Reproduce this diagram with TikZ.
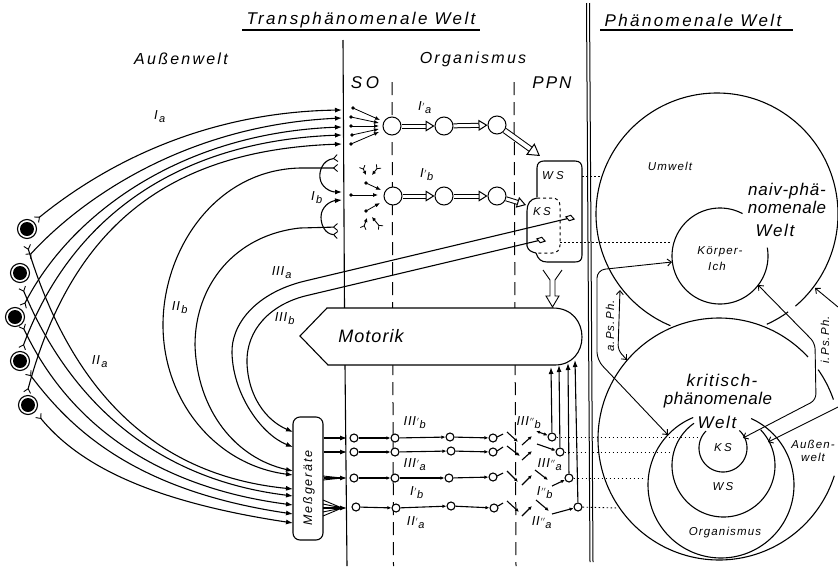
\documentclass[tikz,border=0pt]{standalone}
\usepackage{fontspec}
\setmainfont[LetterSpace=6]{Liberation Sans}
\usetikzlibrary{arrows.meta,shapes.geometric}
\newcommand{\myarc}[5]{plot[domain=#4:#5,samples=120,smooth] ({#1+#3*cos(\x)},{#2+#3*sin(\x)})}
\newcommand{\nlab}[3]{\textit{#1}$^{\scriptscriptstyle #2}$\raisebox{-3pt}{\textit{\fontsize{11}{12}\selectfont #3}}}
\newcommand{\fnt}[2]{\fontsize{#1}{#1}\selectfont\itshape\addfontfeature{LetterSpace=#2}}
\tikzset{
 every node/.style={font=\itshape},
 lw/.style={line width=1.1pt},
 aff/.style={lw,{Straight Barb[reversed,length=4pt,width=7pt,line width=.9pt]}-{Latex[length=7pt,width=5pt]}},
 eff/.style={lw,-{Latex[length=7pt,width=5pt]}},
 fine/.style={line width=.8pt,-{Latex[length=5pt,width=4pt]}},
 fork/.style={line width=.9pt,{Straight Barb[reversed,length=3pt,width=6pt,line width=.8pt]}-{Latex[length=4pt,width=4pt]}},
 seg/.style={line width=1.1pt,-{Latex[length=4pt,width=3.5pt]}},
 open/.style={line width=.9pt,{Straight Barb[length=4pt,width=7pt]}-{Straight Barb[length=4pt,width=7pt]}},
 hollow/.style={double,double distance=3pt,line width=1pt,-{Triangle[open,fill=white,length=9pt,width=11pt,line width=1pt]}},
 hollowb/.style={double,double distance=4pt,line width=1pt,-{Triangle[open,fill=white,length=12pt,width=14pt,line width=1pt]}},
 vdash/.style={line width=1pt,dash pattern=on 13pt off 7pt},
 dotl/.style={line width=.9pt,dash pattern=on 1.5pt off 2.5pt},
 neuron/.style={circle,draw,fill=white,line width=1.1pt,minimum size=19pt,inner sep=0},
 bigc/.style={circle,draw,line width=1pt,fill=white,minimum size=18pt,inner sep=0},
 smallc/.style={circle,draw,fill=white,line width=1.1pt,minimum size=8pt,inner sep=0},
 dia/.style={diamond,draw,fill=white,line width=1pt,minimum width=9pt,minimum height=6pt,inner sep=0},
 head/.style={font=\fnt{17}{14}},
 bigw/.style={font=\fnt{16}{14}},
 small/.style={font=\fnt{11.5}{10}},
 lab/.style={font=\fontsize{13}{14}\selectfont},
}
\begin{document}
\begin{tikzpicture}[x=1pt,y=-1pt]
\useasboundingbox (0,0) rectangle (838,568);
% separators
\draw[line width=1pt] (586.5,3) -- (590,562);
\draw[line width=1pt] (589.5,3) -- (593,562);
\draw[lw] (343,40) -- (344.5,308);
\draw[lw] (345,365) -- (347,566);
\draw[vdash] (392,82) -- (393.5,566);
\draw[vdash] (514,82) -- (516,566);
% headers
\node[head] (h1) at (361,20) {Transphänomenale Welt};
\coordinate (u1a) at (242,30); \coordinate (u1b) at (480,30);
\draw[lw] (u1a) -- (u1b);
\node[head] (h2) at (693,20) {Phänomenale Welt};
\coordinate (u2a) at (600,30); \coordinate (u2b) at (793,30);
\draw[lw] (u2a) -- (u2b);
\node[bigw] (aw) at (181,59) {Außenwelt};
\node[bigw] (org) at (473,59) {Organismus};
\node[font=\fnt{17}{22}] (so) at (365,83) {SO};
\node[font=\fnt{17}{12}] (ppn) at (552,83) {PPN};
% neurons
\node[neuron] (n1) at (27,229) {};
\node[neuron] (n2) at (20,273) {};
\node[neuron] (n3) at (15,317) {};
\node[neuron] (n4) at (20,361) {};
\node[neuron] (n5) at (28,405) {};
\foreach \n in {n1,n2,n3,n4,n5} {\fill (\n) circle (7pt);}
% Messgeraete
\node[draw,lw,rounded corners=7pt,minimum width=30pt,minimum height=123pt,inner sep=0] (mess) at (308,478.5) {};
\node[rotate=90,font=\fnt{12.5}{14}] (messt) at (309,488) {Meßgeräte};
% I_a
\coordinate (ia1) at (342,110); \coordinate (ia2) at (342,118); \coordinate (ia3) at (342,127); \coordinate (ia4) at (342,135); \coordinate (ia5) at (342,144);
\draw[aff] (36,220) .. controls (110,160) and (210,112) .. (ia1);
\draw[aff] (28,257) .. controls (85,195) and (190,125) .. (ia2);
\draw[aff] (23,307) .. controls (70,215) and (180,133) .. (ia3);
\draw[aff] (22,349) .. controls (70,220) and (175,141) .. (ia4);
\draw[aff] (27,393) .. controls (72,225) and (170,150) .. (ia5);
% II_a
\coordinate (m1) at (293,489); \coordinate (m2) at (293,496); \coordinate (m3) at (293,505); \coordinate (m4) at (293,514); \coordinate (m5) at (293,523);
\draw[aff] (27,245) .. controls (70,385) and (150,475) .. (m1);
\draw[aff] (22,287) .. controls (65,390) and (145,478) .. (m2);
\draw[aff] (22,325) .. controls (62,410) and (140,485) .. (m3);
\draw[aff] (28,372) .. controls (68,425) and (130,490) .. (m4);
\draw[aff] (38,415) .. controls (75,460) and (140,500) .. (m5);
% II_b
\coordinate (m6) at (293,475); \coordinate (m7) at (293,471);
\draw[aff] (338,168) -- (300,168) .. controls (215,170) and (163,250) .. (163,325) .. controls (163,400) and (215,465) .. (m6);
\draw[aff] (338,227) -- (300,228) .. controls (235,235) and (195,285) .. (195,345) .. controls (197,410) and (235,458) .. (m7);
% I_b
\coordinate (ib1) at (342,192); \coordinate (ib2) at (342,200);
\draw[aff] (338,158) .. controls (322,160) and (319,172) .. (320,178) .. controls (321,187) and (330,192) .. (ib1);
\draw[aff] (338,235) .. controls (325,234) and (321,225) .. (321,217) .. controls (321,207) and (330,201) .. (ib2);
% Motorik
\draw[lw,fill=white] (300,336) -- (327,308) -- (553,308) .. controls (572,308) and (582,322) .. (582,337) .. controls (582,352) and (572,365) .. (555,365) -- (328,365) -- cycle;
\node[font=\fontsize{18}{20}\selectfont\itshape] (mot) at (371,336) {Motorik};
% upper row
\node[bigc] (a1) at (392,126) {}; \node[bigc] (a2) at (444,126) {}; \node[bigc] (a3) at (497,125) {};
\node[bigc] (b1) at (393,196) {}; \node[bigc] (b2) at (444,196) {}; \node[bigc] (b3) at (497,196) {};
\draw[hollow] (a1) -- (a2); \draw[hollow] (a2) -- (a3);
\draw[hollow] (b1) -- (b2); \draw[hollow] (b2) -- (b3);
% small arrows
\foreach \i/\sx/\sy/\tx/\ty in {1/353/108/380/120,2/351/117/379/123,3/351/126/379/126,4/352/135/379/129,5/351/144/379/132}
 {\coordinate (s\i) at (\sx,\sy); \coordinate (t\i) at (\tx,\ty);
  \fill (s\i) circle (1.8pt); \draw[fine] (s\i) -- (t\i);}
\foreach \i/\sx/\sy/\tx/\ty in {1/362/166/366/175,2/379/166/372/175,6/363/229/367/218,7/381/228/372/217}
 {\coordinate (f\i) at (\sx,\sy); \coordinate (g\i) at (\tx,\ty); \draw[fork] (f\i) -- (g\i);}
\foreach \i/\sx/\sy/\tx/\ty in {3/366/183/381/190,4/351/195/378/195,5/366/211/380/203}
 {\coordinate (f\i) at (\sx,\sy); \coordinate (g\i) at (\tx,\ty);
  \fill (f\i) circle (1.8pt); \draw[fine] (f\i) -- (g\i);}
% WS / KS
\draw[lw] (537,197) -- (537,168) .. controls (537,163) and (540,161) .. (544,161) -- (575,161) .. controls (580,161) and (582,164) .. (582,168) -- (582,255) .. controls (582,260) and (580,262) .. (575,262) -- (547,262) .. controls (541,262) and (538,259) .. (536,253);
\draw[lw] (527,246) -- (527,211) .. controls (527,204) and (530,199) .. (537,198);
\draw[lw] (527,246) .. controls (528,250) and (531,252) .. (536,253);
\draw[line width=1pt,dash pattern=on 3pt off 3pt] (537,198) -- (552,198) .. controls (557,198) and (560,201) .. (560,206) -- (560,245) .. controls (560,250) and (557,253) .. (552,253) -- (536,253);
\node[font=\fnt{11.5}{26}] (ws) at (553,176) {WS};
\node[font=\fnt{11.5}{20}] (ks) at (542,212) {KS};
\coordinate (wsin) at (540,156); \coordinate (ksin) at (526,205);
\draw[hollowb] (a3) -- (wsin);
\draw[hollow] (b3) -- (ksin);
% III
\node[dia,rotate=-15] (d1) at (570,218) {};
\node[dia,rotate=-15] (d2) at (541,240) {};
\coordinate (m8) at (293,447); \coordinate (m9) at (293,432);
\draw[eff] (d1) -- (305,281) .. controls (255,293) and (231,325) .. (232,353) .. controls (233,395) and (262,435) .. (m8);
\draw[eff] (d2) -- (305,296) .. controls (270,305) and (246,330) .. (247,363) .. controls (248,395) and (265,420) .. (m9);
% Y hollow arrow
\draw[line width=.9pt] (543,270) -- (550,280) -- (550,296) -- (546,296) -- (552.5,307) -- (559,296) -- (555,296) -- (555,280) -- (562,270);
% lower rows
\node[smallc] (p11) at (354,438) {}; \node[smallc] (p12) at (395,438) {}; \node[smallc] (p13) at (450,437) {}; \node[smallc] (p14) at (493,438) {};
\node[smallc] (p21) at (354,452) {}; \node[smallc] (p22) at (395,452) {}; \node[smallc] (p23) at (451,451) {}; \node[smallc] (p24) at (493,452) {};
\node[smallc] (p31) at (354,478) {}; \node[smallc] (p32) at (395,478) {}; \node[smallc] (p33) at (449,478) {}; \node[smallc] (p34) at (493,477) {};
\node[smallc] (p41) at (356,507) {}; \node[smallc] (p42) at (396,508) {}; \node[smallc] (p43) at (451,506) {}; \node[smallc] (p44) at (494,508) {};
\node[smallc] (e1) at (552,437) {}; \node[smallc] (e2) at (560,452) {}; \node[smallc] (e3) at (569,478) {}; \node[smallc] (e4) at (578,507) {};
\foreach \r in {1,2,3,4}{\draw[seg] (p\r1) -- (p\r2); \draw[seg] (p\r2) -- (p\r3); \draw[seg] (p\r3) -- (p\r4);}
\coordinate (k1) at (347,438); \coordinate (k2) at (347,452); \coordinate (k3) at (347,478); \coordinate (k4) at (347,508);
\draw[eff] (mess.east |- k1) -- (k1);
\draw[eff] (mess.east |- k2) -- (k2);
\draw[line width=.9pt] (323,476) -- (342,478) (323,480) -- (342,478);
\draw[eff] (mess.east |- k3) -- (k3);
\draw[line width=.9pt] (323,500) -- (342,508) (323,504) -- (342,508) (323,512) -- (342,508) (323,516) -- (342,508);
\draw[eff] (323,508) -- (k4);
% switches
\foreach \a/\b/\c/\d/\e/\f/\g/\h/\i/\j/\k/\l in {
 497/437/503/434/507/432/518/442/522/445/532/436,
 497/451/503/447/507/446/520/456/522/460/532/451,
 497/476/503/473/507/471/518/482/522/485/532/475,
 498/506/503/503/507/501/519/512/522/516/532/506}
 {\draw[line width=1.1pt] (\a,\b) -- (\c,\d);
  \draw[seg] (\e,\f) -- (\g,\h);
  \draw[seg] (\i,\j) -- (\k,\l);}
\coordinate (x1) at (536,431); \coordinate (x2) at (537,444); \coordinate (x3) at (535,470); \coordinate (x4) at (536,500);
\draw[seg,{Latex[length=4pt,width=3.5pt]}-{Latex[length=4pt,width=3.5pt]}] (x1) -- (e1);
\draw[seg] (x2) -- (e2);
\coordinate (y3) at (548,480); \draw[seg] (x3) -- (y3);
\coordinate (z3) at (552,486); \draw[seg] (z3) -- (e3);
\coordinate (y4) at (549,511); \draw[seg] (x4) -- (y4);
\coordinate (z4) at (552,514); \draw[seg] (z4) -- (e4);
\coordinate (u1) at (551,367); \coordinate (u2) at (559,365); \coordinate (u3) at (568,363); \coordinate (u4) at (575,360);
\draw[eff] (e1) -- (u1); \draw[eff] (e2) -- (u2); \draw[eff] (e3) -- (u3); \draw[eff] (e4) -- (u4);
% labels
\node[lab] (l1) at (160,117) {\nlab{I}{}{a}};
\node[lab] (l2) at (317,198) {\nlab{I}{}{b}};
\node[lab] (l3) at (180,308) {\nlab{II}{}{b}};
\node[lab] (l4) at (282,273) {\nlab{III}{}{a}};
\node[lab] (l5) at (285,319) {\nlab{III}{}{b}};
\node[lab] (l6) at (100,362) {\nlab{II}{}{a}};
\node[lab] (l7) at (425,108) {\nlab{I}{\prime}{a}};
\node[lab] (l8) at (427,175) {\nlab{I}{\prime}{b}};
\node[lab] (l9) at (415,423) {\nlab{III}{\prime}{b}};
\node[lab] (l10) at (415,465) {\nlab{III}{\prime}{a}};
\node[lab] (l11) at (417,493) {\nlab{I}{\prime}{b}};
\node[lab] (l12) at (416,523) {\nlab{II}{\prime}{a}};
\node[lab] (l13) at (529,423) {\nlab{III}{\prime\prime}{b}};
\node[lab] (l14) at (550,465) {\nlab{III}{\prime\prime}{a}};
\node[lab] (l15) at (545,493) {\nlab{I}{\prime\prime}{b}};
\node[lab] (l16) at (542,523) {\nlab{II}{\prime\prime}{a}};
% phenomenal circles
\draw[lw] \myarc{717}{214}{121}{112.6}{409.6};
\draw[lw] \myarc{717}{214}{121}{54}{65.7};
\draw[lw] \myarc{720}{256}{48}{-10}{298};
\draw[lw] \myarc{719}{439}{121}{17.7}{317.3};
\draw[lw] \myarc{719}{439}{121}{-35}{-19};
\draw[lw] \myarc{721}{485}{73}{-65.6}{247.6};
\draw[lw] \myarc{723.5}{465.5}{51.5}{-44}{235};
\draw[lw] \myarc{723}{448}{24}{-47}{225};
% phenomenal texts
\node[small] (t1) at (670,166) {Umwelt};
\node[font=\fnt{17}{5}] (t2) at (787,191) {naiv-phä-};
\node[font=\fnt{17}{3}] (t3) at (787,207) {nomenale};
\node[font=\fnt{17}{10}] (t4) at (775,230) {Welt};
\node[small] (t5) at (720,252) {Körper-};
\node[small] (t6) at (717,266) {Ich};
\node[font=\fnt{17}{9}] (t7) at (722,380) {kritisch-};
\node[font=\fnt{17}{3}] (t8) at (718,400) {phänomenale};
\node[font=\fnt{17}{10}] (t9) at (717,422) {Welt};
\node[font=\fnt{11.5}{20}] (t10) at (723,448) {KS};
\node[font=\fnt{11.5}{20}] (t11) at (723,487) {WS};
\node[small] (t12) at (725,533) {Organismus};
\node[small] (t13) at (813,444) {Außen-};
\node[small] (t14) at (813,457) {welt};
\node[small,rotate=90] (t15) at (610,326) {a.Ps.Ph.};
\node[small,rotate=90] (t16) at (825,340) {i.Ps.Ph.};
% relation arrows
\coordinate (o1) at (672,262); \coordinate (o2) at (668,435); \coordinate (o3) at (620,290); \coordinate (o4) at (627,360);
\coordinate (o5) at (758,285); \coordinate (o6) at (743,438); \coordinate (o7) at (815,288); \coordinate (o8) at (768,442);
\draw[open,rounded corners=8pt] (o1) -- (597,270) -- (597,360) -- (o2);
\draw[open,rounded corners=5pt] (o3) -- (618,350) -- (o4);
\draw[open,rounded corners=6pt] (o5) -- (815,343) -- (816,400) -- (o6);
\draw[line width=.9pt,{Straight Barb[length=4pt,width=7pt]}-] (o7) -- (838,307);
\draw[line width=.9pt,{Straight Barb[length=4pt,width=7pt]}-] (o8) -- (838,407);
% dotted
\draw[dotl] (582,176) -- (600,176);
\draw[dotl] (560,242) -- (670,242);
\draw[dotl] (e1) -- (698,437);
\draw[dotl] (e2) -- (670,452);
\draw[dotl] (e3) -- (645,478);
\draw[dotl] (e4) -- (618,508);
\end{tikzpicture}
\end{document}
